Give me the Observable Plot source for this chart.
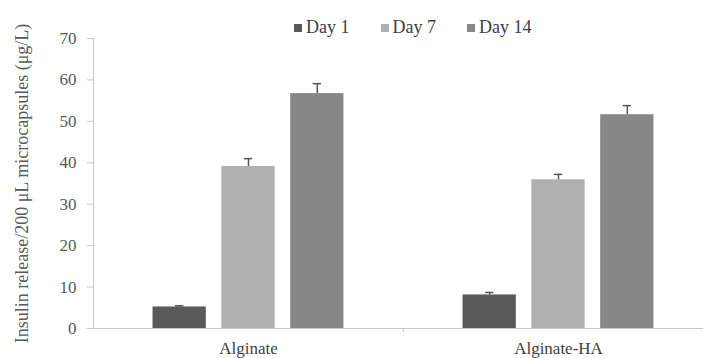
<!DOCTYPE html>
<html>
<head>
<meta charset="utf-8">
<script src="https://cdn.jsdelivr.net/npm/d3@7"></script>
<script src="https://cdn.jsdelivr.net/npm/@observablehq/plot@0.6"></script>
<style>
  html, body { margin: 0; padding: 0; background: #fff; overflow: hidden; }
  #wrap { position: relative; width: 703px; height: 358px; }
  #legend { position: absolute; left: 294px; top: 17px; display: flex; gap: 31px;
            font-family: "Liberation Serif", serif; font-size: 18px; color: #404040; }
  #legend .item { display: flex; align-items: center; }
  #legend .sw { width: 8px; height: 8px; margin-right: 4px; }
</style>
</head>
<body>
<div id="wrap"><div id="legend"></div></div>
<script>
const groups = ["Alginate", "Alginate-HA"];
const days = ["Day 1", "Day 7", "Day 14"];
const alginateValues = [5.2, 39.1, 56.7];
const alginateErrors = [0.3, 1.9, 2.4];
const alginateHAValues = [8.1, 35.9, 51.6];
const alginateHAErrors = [0.6, 1.3, 2.2];
const yTicks = [0, 10, 20, 30, 40, 50, 60, 70];
const dayColors = ["#5a5a5a", "#b0b0b0", "#878787"];
const yLabel = "Insulin release/200 \u03bcL microcapsules (\u03bcg/L)";

const rows = [];
days.forEach((d, i) => {
  rows.push({group: groups[0], day: d, value: alginateValues[i], err: alginateErrors[i]});
  rows.push({group: groups[1], day: d, value: alginateHAValues[i], err: alginateHAErrors[i]});
});

const H = 358, MT = 38, MB = 30;
const chart = Plot.plot({
  width: 703,
  height: H,
  marginLeft: 92,
  marginRight: -10,
  marginTop: MT,
  marginBottom: MB,
  style: {fontFamily: "Liberation Serif", fontSize: "17px", color: "#595959", background: "#fff"},
  fx: {domain: groups, padding: 0, label: null},
  x: {domain: days, paddingInner: 0.226, paddingOuter: 0.865, round: false, axis: null},
  y: {domain: [0, 70]},
  color: {domain: days, range: dayColors},
  marks: [
    Plot.frame({anchor: "left", facet: "super", stroke: "#c8c8c8"}),
    Plot.ruleY([0], {stroke: "#c8c8c8"}),
    Plot.ruleX([0], {x: null, facet: "super", insetTop: H - MT - MB, insetBottom: -4, stroke: "#c8c8c8"}),
    Plot.axisY({ticks: yTicks, tickSize: 6, tickPadding: 11, stroke: "#c8c8c8", fill: "#595959", fontSize: 17,
                label: null}),
    Plot.axisY({ticks: [], tickSize: 0, fill: "#595959", fontSize: 18,
                label: yLabel, labelAnchor: "center", labelArrow: "none", labelOffset: 78}),
    Plot.axisFx({anchor: "bottom", tickSize: 0, tickPadding: 13, label: null, fill: "#404040", fontSize: 17}),
    Plot.barY(rows, {fx: "group", x: "day", y: "value", fill: "day"}),
    Plot.ruleX(rows, {fx: "group", x: "day", y1: "value", y2: d => d.value + d.err, stroke: "#555", strokeWidth: 1.5}),
    Plot.tickY(rows, {fx: "group", x: "day", y: d => d.value + d.err, stroke: "#555", strokeWidth: 1.5, insetLeft: 22.5, insetRight: 22.5})
  ]
});
document.getElementById("wrap").prepend(chart);

const legend = document.getElementById("legend");
days.forEach((d, i) => {
  const item = document.createElement("div");
  item.className = "item";
  const sw = document.createElement("span");
  sw.className = "sw";
  sw.style.background = dayColors[i];
  const t = document.createElement("span");
  t.textContent = d;
  item.append(sw, t);
  legend.append(item);
});
</script>
</body>
</html>
